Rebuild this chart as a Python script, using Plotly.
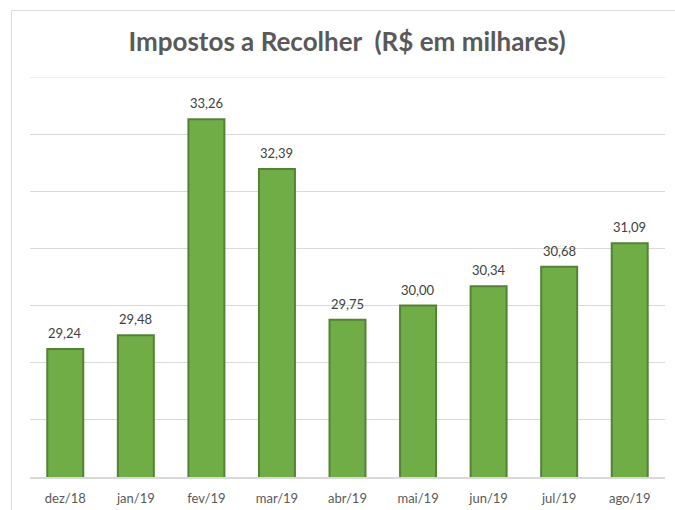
import plotly.graph_objects as go

categories = ["dez/18", "jan/19", "fev/19", "mar/19", "abr/19", "mai/19", "jun/19", "jul/19", "ago/19"]
values = [29.24, 29.48, 33.26, 32.39, 29.75, 30.00, 30.34, 30.68, 31.09]

W, H = 675, 510
L, R, T, B = 30, 10, 77, 33
pw, ph = W - L - R, H - T - B
FONT = "Lato, Open Sans, sans-serif"
Y_MIN, Y_MAX = 27, 34

fig = go.Figure(go.Bar(
    x=categories, y=values,
    marker=dict(color="#70AD47", line=dict(color="#548235", width=2)),
    hoverinfo="x+y",
))

for c, v in zip(categories, values):
    fig.add_annotation(x=c, y=v, xref="x", yref="y", text=f"{v:.2f}".replace(".", ","),
                       showarrow=False, yanchor="middle", yshift=16,
                       font=dict(family=FONT, size=13, color="#404040"))

fig.update_layout(
    width=W, height=H,
    margin=dict(l=L, r=R, t=T, b=B, autoexpand=False),
    paper_bgcolor="white", plot_bgcolor="white",
    separators=",.",
    bargap=0.49,
    showlegend=False,
    title=dict(text="<b>Impostos a Recolher  (R$ em milhares)</b>", x=347 / W, xanchor="center",
               y=1 - 42 / H, yanchor="middle",
               font=dict(family=FONT, size=26, color="#595959")),
    xaxis=dict(showgrid=False, showline=True, linecolor="#D9D9D9", linewidth=1.5,
               ticks="", ticklabelstandoff=9, automargin=False,
               tickfont=dict(family=FONT, size=13, color="#595959")),
    yaxis=dict(range=[Y_MIN, Y_MAX], tick0=Y_MIN, dtick=1, showgrid=True, gridcolor="#D9D9D9", gridwidth=1,
               showticklabels=False, zeroline=False, ticks="", automargin=False),
    shapes=[
        dict(type="rect", xref="paper", yref="paper",
             x0=(11.5 - L) / pw, x1=(W + 5 - L) / pw,
             y0=(H - B - (H + 5)) / ph, y1=(H - B - 10.5) / ph,
             line=dict(color="#D9D9D9", width=1), layer="below"),
        dict(type="line", xref="paper", yref="y", x0=0, x1=1, y0=Y_MAX, y1=Y_MAX,
             line=dict(color="#D9D9D9", width=1), layer="below"),
    ],
)

fig.write_html("out.html", config={"displayModeBar": False},
               post_script="document.body.style.margin='0';document.body.style.overflow='hidden';")
